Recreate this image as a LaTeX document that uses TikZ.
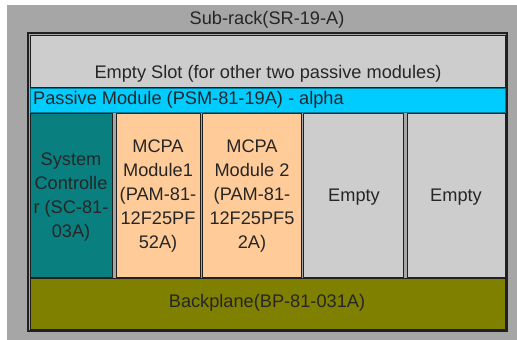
\documentclass[tikz,border=0pt]{standalone}
\usepackage{fontspec}
\setmainfont{Liberation Sans}
\definecolor{rackgray}{HTML}{A6A6A6}
\definecolor{slotgray}{HTML}{CDCDCD}
\definecolor{cyanbar}{HTML}{00CCFF}
\definecolor{tealbox}{HTML}{0A7F80}
\definecolor{peach}{HTML}{FFCC99}
\definecolor{olive}{HTML}{808000}
\definecolor{txtgray}{HTML}{262626}
\definecolor{edge}{HTML}{202020}
\begin{document}
\begin{tikzpicture}[x=1pt,y=-1pt,
  txt/.style={font=\fontsize{18.2}{24}\selectfont, text=txtgray, inner sep=0pt, align=center},
  panel/.style={draw=edge, line width=1.1pt, inner sep=0pt, anchor=north west},
  col/.style={panel, minimum height=164pt},
]
\useasboundingbox (0,0) rectangle (517,340);
\fill[white] (0,0) rectangle (517,340);
\fill[rackgray] (7,5) rectangle (517,340);
\node[txt] (title) at (267,20) {Sub-rack(SR-19-A)};
\draw[edge, line width=1.6pt, fill=rackgray] (28,33) rectangle (507,331);
% empty slot
\node[panel, fill=slotgray, minimum width=475pt, minimum height=52pt] (slot) at (30,35) {};
\node[txt] (slottext) at (268,74) {Empty Slot (for other two passive modules)};
% passive module bar
\node[panel, draw=cyanbar!60!black, line width=0.6pt, fill=cyanbar, minimum width=475pt, minimum height=24pt] (psm) at (30,88) {};
\node[txt, anchor=west] (psmtext) at (33,100) {Passive Module (PSM-81-19A) - alpha};
% columns
\node[col, fill=tealbox, minimum width=82pt] (sc) at (30,113) {};
\node[txt] (sctext) at (71,197) {System\\Controlle\\r (SC-81-\\03A)};
\node[col, fill=peach, minimum width=84pt] (m1) at (116,113) {};
\node[txt] (m1text) at (158,196) {MCPA\\Module1\\(PAM-81-\\12F25PF\\52A)};
\node[col, fill=peach, minimum width=99pt] (m2) at (202,113) {};
\node[txt] (m2text) at (252,196) {MCPA\\Module 2\\(PAM-81-\\12F25PF5\\2A)};
\node[col, fill=slotgray, minimum width=100pt] (e1) at (303,113) {};
\node[txt] (e1text) at (354,197) {Empty};
\node[col, fill=slotgray, minimum width=98pt] (e2) at (407,113) {};
\node[txt] (e2text) at (456,197) {Empty};
% backplane
\node[panel, fill=olive, minimum width=475pt, minimum height=51pt] (bp) at (30,278) {};
\node[txt] (bptext) at (267,303) {Backplane(BP-81-031A)};
\end{tikzpicture}
\end{document}
